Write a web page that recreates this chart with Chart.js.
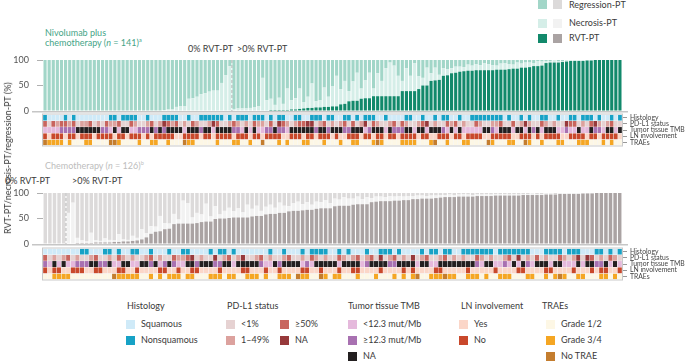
<!DOCTYPE html>
<html>
<head>
<meta charset="utf-8">
<script src="https://cdn.jsdelivr.net/npm/chart.js@4.4.1/dist/chart.umd.min.js"></script>
<style>
body { margin: 0; width: 685px; height: 361px; background: #fff; position: relative; overflow: hidden;
       font-family: Lato, 'Noto Sans', sans-serif; color: #3a3a3a; }
canvas { position: absolute; left: 0; }
.t { position: absolute; font-size: 9px; line-height: 10px; white-space: nowrap; }
.sw { position: absolute; width: 9px; height: 9px; }
sup { font-size: 5.5px; line-height: 0; }
</style>
</head>
<body>
<canvas id="topBars" width="685" height="60" style="top:55px"></canvas>
<canvas id="topHeat" width="685" height="40" style="top:110px"></canvas>
<canvas id="botBars" width="685" height="60" style="top:188px"></canvas>
<canvas id="botHeat" width="685" height="40" style="top:244px"></canvas>

<div class="t" style="left:45px;top:28px;color:#45a487">Nivolumab plus</div>
<div class="t" style="left:45px;top:38px;color:#45a487">chemotherapy (<i>n</i> = 141)<sup>a</sup></div>
<div class="t" style="left:188px;top:44px">0% RVT-PT</div>
<div class="t" style="left:237px;top:44px">&gt;0% RVT-PT</div>
<div class="t" style="left:45px;top:161px;color:#bdbdbd">Chemotherapy (<i>n</i> = 126)<sup>b</sup></div>
<div class="t" style="left:5px;top:176px">0% RVT-PT</div>
<div class="t" style="left:72px;top:176px">&gt;0% RVT-PT</div>
<div class="t" style="left:8px;top:158px;transform:translate(-50%,-50%) rotate(-90deg)">RVT-PT/necrosis-PT/regression-PT (%)</div>

<div id="legends"></div>

<script>
// pathological response per patient, sorted as in the figure
var topRvt = [
  0,0,0,0,0,0,0,0,0,0, 0,0,0,0,0,0,0,0,0,0, 0,0,0,0,0,0,0,0,0,0, 0,0,0,0,0,0,0,0,0,0,
  0,0,0,0,0,0,1,1,1,1, 1,1,1,1,1,2,2,2,2,2, 3,3,4,5,6,6,7,7,8,8, 9,9,13,14,19,20,20,24,25,25,
  29,29,29,29,29,29,29,39,39,39, 39,43,50,50,59,60,61,69,70,74, 75,77,78,79,79,80,80,80,80,80,
  81,81,81,82,83,83,85,85,86,88, 88,89,94,95,95,95,96,97,98,98, 98,98,99,99,100,100,100,100,100,100,
  100];
var topNecrosis = [
  0,0,0,0,0,0,0,0,0,0, 0,0,0,0,0,0,0,0,0,0, 0,0,0,0,0,0,0,0,0,2, 3,3,8,9,9,24,25,28,33,35,
  38,40,40,55,70,88,3,4,4,4, 5,6,8,64,20,22,10,24,12,42, 18,22,40,12,22,48,12,14,38,20, 40,60,30,45,20,38,55,20,35,50,
  15,45,30,55,66,60,40,20,45,30, 55,25,15,35,15,25,10,15,12,10, 12,10,8,12,10,12,10,14,12,10,
  8,12,13,10,8,12,8,10,9,6, 10,8,4,3,5,3,2,2,2,1, 2,2,1,1,0,0,0,0,0,0,
  0];
var topRegression = [
  100,100,100,100,100,100,100,100,100,100, 100,100,100,100,100,100,100,100,100,100,
  100,100,100,100,100,100,100,100,100,98, 97,97,92,91,91,76,75,72,67,65,
  62,60,60,45,30,12,96,95,95,95, 94,93,91,35,79,76,88,74,86,56, 79,75,56,83,72,46,81,79,54,72, 51,31,57,41,61,42,25,56,40,25,
  56,26,41,16,5,11,31,41,16,31, 6,32,35,15,26,15,29,16,18,16, 13,13,14,9,11,8,10,6,8,10,
  11,7,6,8,9,5,7,5,5,6, 2,3,2,2,0,2,2,1,0,1, 0,0,0,0,0,0,0,0,0,0,
  0];

var botRvt = [
  0,0,0,0,0,1,1,2,2,2, 2,3,3,3,3,4,4,5,5,6, 7,9,13,20,24,25,29,30,39,40, 40,40,40,41,43,44,44,49,50,50,
  51,52,52,52,52,54,55,55,58,59, 59,61,61,64,65,65,66,67,67,69, 70,70,70,74,75,75,75,77,78,78,
  78,82,83,84,84,84,85,85,86,86, 88,88,89,89,89,90,91,92,92,92, 93,93,93,93,94,94,94,94,95,95,
  95,95,95,95,96,96,96,96,96,97, 97,97,98,98,98,98,98,99,99,99, 100,100,100,100,100,100];
var botNecrosis = [
  0,0,0,0,0,60,80,10,5,3, 20,4,3,8,5,3,15,4,3,10, 5,20,8,15,10,30,12,10,20,8, 45,40,12,20,15,35,10,25,8,15,
  20,12,18,10,25,15,20,10,15,18, 12,20,14,10,15,18,12,15,10,14, 12,16,10,15,12,17,14,12,15,10,
  14,8,10,9,8,10,8,9,7,8, 6,7,6,5,6,5,5,4,5,4, 4,5,4,3,4,3,4,3,3,3,
  3,2,3,2,2,2,3,2,2,2, 2,1,1,2,1,1,1,1,0,0, 0,0,0,0,0,0];
var botRegression = [
  100,100,100,100,100,39,19,88,93,95, 78,93,94,89,92,93,81,91,92,84, 88,71,79,65,66,45,59,60,41,52,
  15,20,48,39,42,21,46,26,42,35, 29,36,30,38,23,31,25,35,27,23, 29,19,25,26,20,17,22,18,23,17,
  18,14,20,11,13,8,11,11,7,12, 8,10,7,7,8,6,7,6,7,6, 6,5,5,6,5,5,4,4,3,4,
  3,2,3,4,2,3,2,3,2,2, 2,3,2,3,2,2,1,2,2,1, 1,2,1,0,1,1,1,0,1,1, 0,0,0,0,0,0];

// first patient with RVT-PT > 0 in each arm
var topSplit = 46;
var botSplit = 5;

// clinical annotation rows, one code per patient
var rowNames = ['Histology', 'PD-L1 status', 'Tumor tissue TMB', 'LN involvement', 'TRAEs'];
var topHistology = 'nssssnsnss ssssssnnsn nnnssnsssn nnnssnssnn nnnnsnsnnn snnnsnsnns snnssnnnsn n ssnnsnsnnn ssnssssnns snssnsnnss nssnnnnnnn nsnssnsnss nnssnssnns nnnsnssnsn';
var topPdl1 = 'cacbccbcab bcabacbbca acbaabcabx cbcabacbaa bxcaabcbab acbbacaxcb abccxxabca babcacabxa cbaabcacba abcxabaacb cabaacbaab bcaacabxba acbabaaxcc abacxbabca a';
var topTmb = 'llllhhhhxx xxxxhhlxlx xllhhhxhxh xxxxlxxxhx xlxxxxhhlx lxllhhxhhl xxxxxxhxxh x xxhhxxxlhx xxlxhhhxxl xxlxxxhlxl xlllllxxhl xxxlxxlxhx lxxxllhllx llxhhlxxlx';
var topLn = 'nynnnynnyn nnynnnnynn ynnnynynnn nnyynnnnyn nynnnnynnn ynnynnnnyy nnnynnynnn y nyynnnynny nnynnynnnn ynnyynnnyn nynnnnyynn nnnyynnnyn ynnnnyynnn nynnynnnny';
var topTrae = '0333313111 3311110031 1113113311 3111033111 1131113311 3110111313 1113311131 1 1311331113 0311113333 1113011311 1331111031 1133110311 3111331113 3311131311';

var botHistology = 'ssssssssnn sssnnsnssn nssnsssnss nnssssnsnn snsssssssn ssnsssnsnn nns snsnsssnss nnnsnssssn snnsnnssnn nnnnnsnnnn nnnsssnnnn snnnsssnns nsn';
var botPdl1 = 'cababcabaa bcaabacbab aabcabaacb bcxabaaxab cabxaabcab aabcaabacb abaacbabca bcaxabcaba xabcaabcab abaacbabaa bcaxabacab aacbabxaxc abacba';
var botTmb = 'hlxlxllhhh xxhhxllxxl lxxhxlhxhl lxxhxxxhhx xlxxxxxhll xhxxxxlhlx xxx xlxxxxlhxx xxhhxxxxlx xllxxxxxxx xhlxxllhlx lxhlxxxlxx lllxlxxhhx lxl';
var botLn = 'nynnyynnny ynnyyynnyy nyyyynnyyn yynnyyyyny yyynnyyyny ynyyyynnyy nyyynyynny yyynyyyyny nyyyynnyyy yynyyyyyny yyynnyyyyn nyyyynyyyn ynnyyn';
var botTrae = '1133331111 1111103333 3113131333 1331113331 3311333131 1333103311 0313311131 1131113131 3011333033 1133313113 3311133113 1303113311 133131';

var nivoColors = ['#12896b', '#d5eee8', '#a2d6c8'];
var chemoColors = ['#aaa3a3', '#f2f2f2', '#dcdada'];

var codeColors = [
  { s: '#cfeaf8', n: '#17a2c6' },
  { a: '#e6d2d2', b: '#dca29e', c: '#c8655e', x: '#97393b' },
  { l: '#e5b9dc', h: '#a871b1', x: '#231f20' },
  { y: '#fbd6c8', n: '#c9482b' },
  { '1': '#fdf7e5', '3': '#f5a623', '0': '#c47d2e' }
];

var FONT = "Lato, 'Noto Sans', sans-serif";

function guides(split) {
  return {
    id: 'guides',
    afterDatasetsDraw: function(chart) {
      var ctx = chart.ctx, xs = chart.scales.x, ys = chart.scales.y, area = chart.chartArea;
      var y0 = ys.getPixelForValue(0);
      ctx.save();
      ctx.strokeStyle = '#c6c6c6';
      ctx.lineWidth = 1.5;
      ctx.beginPath();
      ctx.moveTo(area.left - 11, y0 + 0.75);
      ctx.lineTo(area.right + 6, y0 + 0.75);
      ctx.stroke();
      var x = (xs.getPixelForValue(split - 1) + xs.getPixelForValue(split)) / 2;
      ctx.setLineDash([3, 2]);
      ctx.lineWidth = 1;
      ctx.strokeStyle = '#b5b5b5';
      ctx.beginPath();
      ctx.moveTo(x, ys.getPixelForValue(100));
      ctx.lineTo(x, y0);
      ctx.stroke();
      ctx.restore();
    }
  };
}

var frame = {
  id: 'frame',
  afterDatasetsDraw: function(chart) {
    var a = chart.chartArea, ctx = chart.ctx;
    ctx.save();
    ctx.strokeStyle = '#c9c9c9';
    ctx.lineWidth = 1;
    ctx.strokeRect(a.left - 0.5, a.top - 0.5, a.right - a.left + 1, a.bottom - a.top + 1);
    ctx.restore();
  }
};

// keep the label half-heights out of the layout so the plot box sits where the padding says
function fixBox(width) {
  return function(s) {
    s.width = width;
    s.paddingTop = 0;
    s.paddingBottom = 0;
  };
}

function makeBars(id, rvt, nec, reg, split, colors) {
  var labels = rvt.map(function(v, i) { return 'P' + (i + 1); });
  new Chart(document.getElementById(id), {
    type: 'bar',
    data: {
      labels: labels,
      datasets: [
        { label: 'RVT-PT', data: rvt, backgroundColor: colors[0] },
        { label: 'Necrosis-PT', data: nec, backgroundColor: colors[1] },
        { label: 'Regression-PT', data: reg, backgroundColor: colors[2] }
      ]
    },
    options: {
      responsive: false,
      animation: false,
      devicePixelRatio: 1,
      layout: { autoPadding: false, padding: { top: 5, bottom: 4, left: 0, right: 63 } },
      datasets: { bar: { barPercentage: 0.76, categoryPercentage: 1 } },
      scales: {
        x: { stacked: true, display: false },
        y: {
          stacked: true, min: 0, max: 100,
          afterFit: fixBox(43),
          ticks: { stepSize: 50, color: '#555', padding: 8, font: { size: 9, family: FONT } },
          grid: { drawOnChartArea: false, tickLength: 6, color: '#b0b0b0' },
          border: { display: false }
        }
      },
      plugins: { legend: { display: false }, tooltip: { enabled: false } }
    },
    plugins: [guides(split)]
  });
}

function makeHeat(id, rows) {
  var codes = rows.map(function(r) { return r.replace(/ /g, '').split(''); });
  var labels = codes[0].map(function(c, i) { return 'P' + (i + 1); });
  var datasets = codes.map(function(row, r) {
    return {
      label: rowNames[r],
      data: row.map(function() { return 1; }),
      backgroundColor: row.map(function(c) { return codeColors[r][c]; }),
      borderColor: '#f7f7f7',
      borderWidth: 0.5,
      borderSkipped: false,
      barPercentage: 1,
      categoryPercentage: 1
    };
  });
  new Chart(document.getElementById(id), {
    type: 'bar',
    data: { labels: labels, datasets: datasets },
    options: {
      responsive: false,
      animation: false,
      devicePixelRatio: 1,
      layout: { autoPadding: false, padding: { top: 4.5, bottom: 4.5, left: 43, right: 0 } },
      scales: {
        x: { stacked: true, display: false },
        y: { stacked: true, min: 0, max: 5, reverse: true, display: false },
        yr: {
          position: 'right', min: 0, max: 5, reverse: true,
          afterBuildTicks: function(s) {
            s.ticks = rowNames.map(function(n, i) { return { value: i + 0.5 }; });
          },
          afterFit: fixBox(63),
          ticks: {
            autoSkip: false, padding: 3, color: '#444',
            font: { size: 6.8, family: FONT, lineHeight: 1 },
            callback: function(v) { return rowNames[Math.floor(v)]; }
          },
          grid: { drawOnChartArea: false, tickLength: 5, color: '#999' },
          border: { display: false }
        }
      },
      plugins: { legend: { display: false }, tooltip: { enabled: false } }
    },
    plugins: [frame]
  });
}

makeBars('topBars', topRvt, topNecrosis, topRegression, topSplit, nivoColors);
makeHeat('topHeat', [topHistology, topPdl1, topTmb, topLn, topTrae]);
makeBars('botBars', botRvt, botNecrosis, botRegression, botSplit, chemoColors);
makeHeat('botHeat', [botHistology, botPdl1, botTmb, botLn, botTrae]);

// legends
var html = '';
function text(x, y, s) { html += '<div class="t" style="left:' + x + 'px;top:' + (y - 5) + 'px">' + s + '</div>'; }
function swatch(x, y, c) { html += '<div class="sw" style="left:' + x + 'px;top:' + (y - 4.5) + 'px;background:' + c + '"></div>'; }

var responseNames = ['Regression-PT', 'Necrosis-PT', 'RVT-PT'];
var responseRows = [4.5, 23, 38];
[2, 1, 0].forEach(function(k, i) {
  swatch(538, responseRows[i], nivoColors[k]);
  swatch(553, responseRows[i], chemoColors[k]);
  text(569, responseRows[i], responseNames[i]);
});

var legendGroups = [
  { title: 'Histology', x: 127, items: [[126, 324, 's', 'Squamous'], [126, 340, 'n', 'Nonsquamous']] },
  { title: 'PD-L1 status', x: 227, items: [[226, 324, 'a', '&lt;1%'], [226, 340, 'b', '1–49%'], [280, 324, 'c', '≥50%'], [280, 340, 'x', 'NA']] },
  { title: 'Tumor tissue TMB', x: 348, items: [[348, 324, 'l', '&lt;12.3 mut/Mb'], [348, 340, 'h', '≥12.3 mut/Mb'], [348, 356, 'x', 'NA']] },
  { title: 'LN involvement', x: 461, items: [[459, 324, 'y', 'Yes'], [459, 340, 'n', 'No']] },
  { title: 'TRAEs', x: 542, items: [[546, 324, '1', 'Grade 1/2'], [546, 340, '3', 'Grade 3/4'], [546, 356, '0', 'No TRAE']] }
];
legendGroups.forEach(function(g, r) {
  text(g.x, 306, g.title);
  g.items.forEach(function(it) {
    swatch(it[0], it[1], codeColors[r][it[2]]);
    text(it[0] + 15, it[1], it[3]);
  });
});
document.getElementById('legends').innerHTML = html;
</script>
</body>
</html>
